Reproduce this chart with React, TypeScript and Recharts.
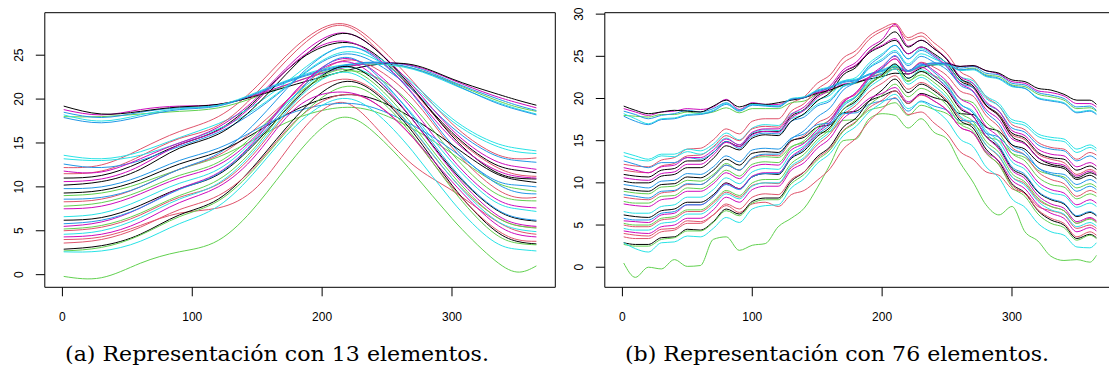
import React from "react";
import { LineChart, Line, XAxis, YAxis, ReferenceArea } from "recharts";

// day grids
const daysA = [1, 30, 60, 90, 120, 150, 180, 212, 240, 270, 300, 330, 350, 365];
const daysB = [
  1, 10, 20, 30, 40, 50, 60, 70, 80, 90, 100, 110, 120, 130, 140, 150, 160, 170, 180,
  190, 200, 210, 220, 230, 240, 250, 260, 270, 280, 290, 300, 310, 320, 330, 340, 350, 360, 365,
];

const xTicks = [0, 100, 200, 300];
const yTicksA = [0, 5, 10, 15, 20, 25];
const yTicksB = [0, 5, 10, 15, 20, 25, 30];

const captionA = "(a) Representación con 13 elementos.";
const captionB = "(b) Representación con 76 elementos.";

// ---- (a) smooth curves, 13 elements ----
const aO1 = [19.2, 18.3, 18.6, 19.1, 19.4, 20.4, 21.7, 23.0, 23.9, 23.9, 22.3, 20.8, 19.9, 19.3];
const aO2 = [18.8, 18.2, 18.8, 19.2, 19.4, 20.5, 22.0, 23.4, 24.1, 23.8, 22.2, 20.5, 19.6, 19.0];
const aO3 = [18.5, 17.9, 18.5, 19.0, 19.3, 20.6, 22.3, 23.6, 24.2, 23.7, 22.0, 20.3, 19.3, 18.7];
const aO4 = [18.0, 18.0, 18.3, 18.6, 19.0, 20.3, 22.0, 23.5, 24.0, 23.5, 21.9, 20.1, 19.1, 18.6];
const aO5 = [18.2, 17.5, 18.2, 18.9, 19.3, 20.8, 22.5, 23.8, 24.0, 23.4, 21.7, 19.9, 18.9, 18.3];
const aO6 = [17.9, 17.3, 18.0, 18.8, 19.2, 20.7, 22.4, 23.7, 24.2, 23.5, 21.8, 19.8, 18.8, 18.2];
const aG = [-0.2, -0.35, 1.3, 2.6, 3.9, 8.0, 13.6, 17.8, 16.2, 11.6, 6.4, 2.0, 0.3, 1.0];
const aM1 = [13.6, 13.2, 14.0, 15.6, 17.2, 19.5, 22.8, 25.8, 25.0, 21.8, 17.8, 15.2, 14.4, 14.1];
const aM2 = [13.2, 13.0, 13.6, 15.0, 16.6, 19.0, 22.3, 25.2, 24.6, 21.5, 17.5, 14.9, 14.0, 13.8];
const aM3 = [12.2, 12.5, 14.3, 16.3, 18.0, 21.5, 26.0, 28.6, 26.5, 22.0, 17.2, 14.0, 13.2, 13.3];
const aM4 = [12.6, 12.2, 13.0, 14.6, 16.2, 18.8, 22.2, 25.0, 24.2, 21.0, 16.8, 13.8, 13.0, 12.8];
const aM5 = [11.8, 11.7, 13.2, 15.0, 16.8, 20.2, 24.6, 27.5, 25.8, 21.5, 16.5, 13.2, 12.3, 12.0];
const aM6 = [11.0, 11.3, 12.8, 14.8, 16.5, 20.0, 24.2, 26.4, 25.2, 21.0, 16.2, 12.8, 11.9, 11.6];
const aM7 = [11.5, 11.8, 13.5, 15.5, 17.0, 20.8, 25.5, 28.4, 26.0, 21.0, 16.0, 12.6, 11.4, 11.2];
const aM8 = [10.2, 10.6, 12.0, 14.4, 16.0, 19.4, 24.0, 27.4, 25.8, 21.2, 15.8, 12.0, 11.0, 10.9];
const aM9 = [10.6, 10.9, 12.4, 14.8, 16.4, 19.8, 24.3, 26.6, 25.0, 20.6, 15.5, 12.2, 11.2, 11.0];
const aM10 = [9.3, 9.6, 10.8, 12.6, 14.0, 16.3, 18.8, 20.4, 20.0, 17.8, 14.8, 11.8, 10.8, 10.5];
const aM11 = [9.0, 9.3, 10.4, 12.0, 13.4, 15.6, 17.8, 19.0, 18.6, 16.6, 13.8, 10.8, 9.8, 9.5];
const aM12 = [8.6, 8.8, 10.0, 12.0, 13.8, 17.5, 22.3, 25.8, 24.8, 20.5, 14.8, 10.8, 9.4, 9.2];
const aM13 = [9.8, 10.0, 11.2, 13.0, 14.4, 16.6, 18.6, 19.5, 19.0, 17.0, 14.2, 11.0, 10.2, 10.0];
const aM14 = [8.3, 8.6, 10.0, 12.0, 13.6, 16.8, 20.8, 24.2, 23.6, 20.0, 14.5, 10.2, 8.8, 8.8];
const aM15 = [7.8, 8.2, 9.5, 11.3, 12.8, 16.3, 20.5, 23.0, 22.6, 19.2, 13.8, 9.6, 8.5, 8.4];
const aM16 = [7.5, 7.8, 9.2, 11.0, 12.5, 16.0, 21.0, 24.5, 23.2, 18.8, 13.2, 9.0, 7.8, 7.6];
const aM17 = [6.6, 7.0, 8.5, 10.4, 12.0, 15.8, 20.6, 23.5, 22.5, 18.2, 12.8, 8.6, 7.5, 7.2];
const aM18 = [6.2, 6.5, 7.9, 9.8, 11.4, 15.2, 20.0, 23.6, 22.2, 17.6, 12.0, 7.8, 6.4, 6.1];
const aM19 = [5.8, 6.2, 7.6, 9.7, 11.5, 15.4, 20.5, 24.6, 23.0, 18.0, 12.2, 7.9, 6.5, 6.2];
const aM20 = [5.0, 5.4, 6.8, 8.8, 10.3, 14.2, 19.5, 22.2, 21.0, 16.5, 11.0, 7.0, 5.6, 5.4];
const aM21 = [5.5, 6.0, 7.6, 9.8, 11.6, 15.6, 21.0, 24.2, 22.6, 17.6, 11.8, 7.3, 5.8, 5.5];
const aM22 = [5.2, 5.6, 7.0, 9.0, 10.8, 14.8, 20.2, 23.3, 21.8, 17.0, 11.4, 7.0, 5.6, 5.3];
const aM23 = [4.6, 5.0, 6.5, 8.6, 10.4, 14.5, 19.8, 23.0, 21.4, 16.6, 11.0, 6.6, 5.2, 4.9];
const aM24 = [4.0, 4.3, 5.6, 7.0, 7.6, 10.0, 15.6, 19.6, 17.0, 12.5, 9.6, 6.5, 5.0, 4.6];
const aM25 = [2.9, 3.3, 4.6, 6.8, 8.6, 12.8, 18.0, 21.8, 20.8, 16.2, 10.2, 5.4, 3.8, 3.5];
const aM26 = [2.7, 3.1, 4.5, 6.6, 8.4, 12.4, 17.5, 21.2, 20.4, 15.8, 9.8, 5.0, 3.6, 3.4];
const aM27 = [2.6, 2.7, 3.8, 5.8, 7.8, 12.0, 17.0, 20.0, 18.6, 14.0, 8.4, 4.0, 2.9, 2.7];
const aM28 = [4.3, 4.6, 6.0, 8.2, 10.0, 13.8, 19.0, 20.8, 19.6, 15.6, 10.6, 6.2, 4.6, 4.3];
const aM29 = [3.6, 4.0, 5.4, 7.4, 9.0, 12.6, 17.6, 20.4, 19.6, 15.6, 10.0, 5.6, 4.0, 3.8];

// ---- (b) wiggly curves, 76 elements ----
const bO1 = [19.1, 18.6, 18.2, 18.4, 18.6, 18.5, 18.4, 19.1, 19.8, 19.0, 19.4, 19.3, 19.5, 19.8, 20.1, 20.6, 21.0, 21.6, 21.9, 22.3, 22.6, 23.0, 22.9, 23.6, 24.0, 24.1, 23.8, 23.9, 23.3, 23.0, 22.2, 22.0, 21.2, 21.0, 20.5, 19.8, 19.8, 19.3];
const bO2 = [18.8, 18.4, 18.0, 18.4, 18.5, 18.8, 18.7, 19.0, 19.9, 18.7, 19.5, 19.3, 19.3, 19.9, 20.1, 20.7, 21.0, 21.7, 21.9, 22.5, 22.9, 23.5, 23.2, 23.9, 24.1, 24.2, 23.8, 23.9, 23.3, 22.9, 22.0, 21.8, 20.9, 20.7, 20.3, 19.4, 19.4, 19.0];
const bO3 = [18.5, 18.1, 17.6, 18.0, 18.2, 18.6, 18.4, 18.8, 19.5, 18.6, 19.3, 19.2, 19.1, 19.9, 20.1, 20.8, 21.2, 21.9, 22.1, 22.8, 23.2, 23.7, 23.3, 24.0, 24.2, 24.2, 23.6, 23.8, 23.0, 22.8, 21.8, 21.6, 20.7, 20.4, 20.0, 19.0, 19.1, 18.6];
const bO4 = [18.0, 17.9, 17.8, 18.1, 18.1, 18.4, 18.2, 18.4, 18.9, 18.3, 18.8, 18.8, 18.8, 19.5, 19.7, 20.5, 20.8, 21.6, 21.8, 22.5, 23.0, 23.5, 23.2, 23.8, 24.0, 24.0, 23.4, 23.6, 22.8, 22.6, 21.6, 21.4, 20.5, 20.2, 19.8, 18.8, 18.9, 18.5];
const bO5 = [18.2, 17.6, 17.0, 17.6, 17.7, 18.1, 18.2, 18.6, 19.4, 18.6, 19.3, 19.2, 19.1, 20.0, 20.2, 21.0, 21.4, 22.1, 22.3, 22.9, 23.4, 23.9, 23.3, 23.9, 24.0, 24.0, 23.3, 23.4, 22.6, 22.3, 21.4, 21.2, 20.1, 19.8, 19.5, 18.4, 18.6, 18.2];
const bO6 = [17.9, 17.3, 16.9, 17.5, 17.6, 18.0, 18.1, 18.5, 19.3, 18.5, 19.2, 19.1, 19.0, 19.9, 20.1, 20.9, 21.3, 22.0, 22.2, 22.9, 23.3, 23.8, 23.2, 23.9, 24.2, 24.1, 23.4, 23.5, 22.7, 22.4, 21.5, 21.2, 20.0, 19.7, 19.4, 18.3, 18.5, 18.1];
const bG = [0.5, -1.2, 0.0, -0.2, 0.9, 0.1, 0.2, 3.3, 3.6, 2.0, 2.6, 2.8, 4.8, 5.8, 7.0, 9.4, 12.2, 15.0, 15.2, 17.6, 18.2, 18.0, 16.5, 17.6, 16.0, 15.2, 12.4, 10.1, 7.4, 6.2, 7.2, 4.2, 3.1, 1.3, 0.8, 0.9, 0.6, 1.4];
const bM1 = [13.6, 13.2, 12.8, 13.4, 13.4, 14.0, 13.8, 14.6, 15.9, 15.1, 16.5, 16.9, 16.8, 18.2, 18.6, 19.8, 20.4, 22.0, 22.5, 24.2, 25.3, 26.3, 24.7, 25.9, 25.1, 24.2, 22.6, 22.1, 20.3, 19.4, 17.5, 17.1, 15.8, 15.4, 15.2, 14.0, 14.5, 14.1];
const bM2 = [13.2, 12.8, 12.6, 13.2, 13.1, 13.7, 13.4, 14.2, 15.3, 14.5, 15.9, 16.3, 16.2, 17.6, 18.1, 19.3, 19.9, 21.5, 22.0, 23.7, 24.7, 25.7, 24.1, 25.3, 24.7, 23.9, 22.2, 21.8, 20.0, 19.1, 17.2, 16.8, 15.5, 15.1, 14.9, 13.6, 14.2, 13.8];
const bM3 = [12.2, 12.0, 11.9, 12.7, 13.0, 14.0, 14.1, 15.1, 16.4, 15.8, 17.3, 17.6, 17.6, 19.4, 20.2, 21.8, 22.8, 24.8, 25.7, 27.4, 28.3, 28.9, 27.2, 27.8, 26.6, 25.3, 23.2, 22.3, 20.2, 19.1, 16.9, 16.3, 14.8, 14.2, 14.0, 12.8, 13.6, 13.3];
const bM4 = [12.6, 12.2, 11.8, 12.4, 12.4, 13.0, 12.8, 13.6, 14.9, 14.1, 15.5, 15.9, 15.8, 17.3, 17.8, 19.1, 19.7, 21.4, 21.9, 23.6, 24.5, 25.5, 23.9, 25.0, 24.3, 23.4, 21.8, 21.3, 19.4, 18.5, 16.5, 16.0, 14.5, 14.0, 13.8, 12.6, 13.2, 12.8];
const bM5 = [11.8, 11.5, 11.2, 11.9, 12.1, 13.0, 13.0, 13.9, 15.2, 14.5, 16.0, 16.4, 16.4, 18.1, 19.0, 20.5, 21.5, 23.4, 24.3, 26.0, 27.0, 28.8, 26.2, 26.9, 25.9, 24.7, 22.6, 21.8, 19.6, 18.5, 16.2, 15.6, 14.0, 13.4, 13.2, 11.9, 12.4, 12.0];
const bM6 = [11.0, 10.8, 10.7, 11.5, 11.7, 12.6, 12.6, 13.6, 14.9, 14.3, 15.8, 16.1, 16.1, 17.9, 18.7, 20.3, 21.2, 23.1, 23.9, 25.4, 26.2, 26.9, 25.3, 26.1, 25.3, 24.1, 22.1, 21.3, 19.2, 18.1, 15.9, 15.3, 13.6, 13.0, 12.8, 11.5, 12.0, 11.6];
const bM7 = [11.5, 11.3, 11.2, 12.0, 12.3, 13.2, 13.3, 14.3, 15.6, 15.0, 16.4, 16.7, 16.6, 18.5, 19.4, 21.1, 22.2, 24.2, 25.2, 27.0, 28.0, 28.6, 26.9, 27.4, 26.1, 24.6, 22.4, 21.3, 19.1, 18.0, 15.7, 15.1, 13.4, 12.8, 12.4, 11.0, 11.6, 11.2];
const bM8 = [10.2, 10.0, 10.0, 10.8, 11.0, 11.8, 11.8, 12.9, 14.4, 13.9, 15.3, 15.7, 15.6, 17.3, 18.2, 19.7, 20.7, 22.8, 23.7, 25.6, 26.7, 27.9, 26.1, 26.9, 25.9, 24.6, 22.4, 21.5, 19.2, 17.9, 15.5, 14.7, 13.0, 12.2, 11.9, 10.6, 11.2, 10.9];
const bM9 = [10.6, 10.4, 10.3, 11.1, 11.3, 12.2, 12.2, 13.3, 14.8, 14.3, 15.7, 16.1, 16.0, 17.7, 18.6, 20.1, 21.1, 23.1, 24.0, 25.5, 26.3, 27.1, 25.3, 26.1, 25.1, 23.8, 21.8, 20.9, 18.7, 17.5, 15.2, 14.6, 13.0, 12.4, 12.1, 10.8, 11.4, 11.0];
const bM10 = [9.3, 9.1, 9.0, 9.8, 9.9, 10.7, 10.6, 11.5, 12.8, 12.1, 13.5, 13.7, 13.6, 15.0, 15.4, 16.6, 16.9, 18.3, 18.5, 19.7, 20.3, 20.9, 19.4, 20.6, 20.1, 19.6, 18.2, 18.1, 16.6, 16.1, 14.5, 14.0, 12.5, 12.0, 11.7, 10.4, 10.9, 10.5];
const bM11 = [9.0, 8.8, 8.7, 9.5, 9.6, 10.3, 10.2, 11.0, 12.3, 11.5, 12.9, 13.1, 13.0, 14.3, 14.8, 15.9, 16.1, 17.4, 17.5, 18.6, 19.0, 19.5, 18.0, 19.2, 18.7, 18.2, 17.0, 16.9, 15.5, 15.0, 13.5, 13.0, 11.5, 11.0, 10.7, 9.4, 9.9, 9.5];
const bM12 = [8.6, 8.4, 8.2, 9.0, 9.1, 9.9, 9.8, 10.8, 12.1, 11.5, 13.0, 13.4, 13.4, 15.2, 16.2, 17.8, 18.9, 21.0, 22.0, 23.9, 25.1, 26.3, 24.7, 25.7, 24.9, 23.7, 21.6, 20.8, 18.4, 17.0, 14.5, 13.7, 11.8, 11.0, 10.5, 9.0, 9.6, 9.2];
const bM13 = [9.8, 9.6, 9.4, 10.2, 10.3, 11.1, 11.0, 11.9, 13.2, 12.5, 13.9, 14.1, 14.0, 15.3, 15.8, 16.9, 17.1, 18.2, 18.3, 19.3, 19.7, 20.0, 18.5, 19.7, 19.1, 18.6, 17.4, 17.3, 15.9, 15.4, 13.9, 13.3, 11.8, 11.2, 11.0, 9.8, 10.4, 10.0];
const bM14 = [8.3, 8.1, 8.0, 8.8, 9.0, 9.8, 9.8, 10.8, 12.1, 11.5, 12.9, 13.3, 13.2, 14.9, 15.6, 17.1, 17.9, 19.8, 20.5, 22.4, 23.5, 24.7, 23.2, 24.3, 23.7, 22.7, 20.9, 20.3, 18.0, 16.6, 14.2, 13.3, 11.3, 10.4, 9.9, 8.4, 9.1, 8.8];
const bM15 = [7.8, 7.6, 7.6, 8.4, 8.5, 9.4, 9.3, 10.2, 11.5, 10.8, 12.2, 12.5, 12.4, 14.2, 15.0, 16.6, 17.5, 19.4, 20.2, 21.8, 22.7, 23.5, 22.0, 23.2, 22.7, 21.8, 20.0, 19.5, 17.2, 15.9, 13.5, 12.6, 10.7, 9.8, 9.5, 8.1, 8.7, 8.4];
const bM16 = [7.5, 7.3, 7.2, 8.0, 8.2, 9.0, 9.0, 9.9, 11.2, 10.5, 11.9, 12.2, 12.1, 13.9, 14.7, 16.3, 17.5, 19.6, 20.7, 22.6, 23.8, 25.0, 23.3, 24.2, 23.3, 22.0, 20.0, 19.1, 16.7, 15.4, 12.9, 12.0, 10.1, 9.2, 8.8, 7.4, 8.0, 7.6];
const bM17 = [6.6, 6.4, 6.4, 7.2, 7.4, 8.3, 8.3, 9.2, 10.6, 9.9, 11.3, 11.7, 11.6, 13.5, 14.4, 16.1, 17.2, 19.3, 20.3, 22.0, 23.0, 24.0, 22.4, 23.4, 22.6, 21.4, 19.3, 18.5, 16.2, 14.9, 12.5, 11.6, 9.7, 8.8, 8.5, 7.1, 7.6, 7.2];
const bM18 = [6.2, 6.0, 5.9, 6.7, 6.9, 7.7, 7.7, 8.6, 10.0, 9.3, 10.7, 11.1, 11.0, 12.9, 13.8, 15.5, 16.6, 18.7, 19.7, 21.6, 22.8, 24.1, 22.4, 23.2, 22.3, 21.0, 18.8, 17.9, 15.5, 14.2, 11.7, 10.8, 8.9, 8.0, 7.5, 6.0, 6.5, 6.1];
const bM19 = [5.8, 5.6, 5.6, 6.4, 6.6, 7.4, 7.4, 8.4, 9.8, 9.2, 10.7, 11.1, 11.1, 13.0, 14.0, 15.7, 16.9, 19.1, 20.2, 22.3, 23.6, 25.1, 23.3, 24.1, 23.1, 21.6, 19.4, 18.3, 15.9, 14.4, 11.9, 11.0, 9.0, 8.1, 7.6, 6.1, 6.6, 6.2];
const bM20 = [5.0, 4.8, 4.8, 5.6, 5.8, 6.6, 6.6, 7.6, 8.9, 8.3, 9.7, 10.0, 9.9, 11.8, 12.8, 14.5, 15.8, 18.0, 19.2, 20.8, 21.8, 22.7, 21.1, 21.9, 21.1, 19.8, 17.7, 16.8, 14.5, 13.1, 10.7, 9.9, 8.0, 7.2, 6.7, 5.2, 5.8, 5.4];
const bM21 = [5.5, 5.4, 5.3, 6.2, 6.4, 7.4, 7.4, 8.4, 9.9, 9.3, 10.8, 11.2, 11.2, 13.1, 14.2, 15.9, 17.2, 19.5, 20.7, 22.5, 23.6, 24.7, 22.9, 23.7, 22.7, 21.2, 19.0, 17.9, 15.5, 14.0, 11.5, 10.5, 8.5, 7.5, 7.0, 5.4, 5.9, 5.5];
const bM22 = [5.2, 5.0, 5.0, 5.8, 6.0, 6.8, 6.8, 7.8, 9.1, 8.5, 10.0, 10.4, 10.4, 12.3, 13.4, 15.1, 16.4, 18.7, 19.9, 21.7, 22.7, 23.8, 22.1, 22.8, 21.9, 20.5, 18.3, 17.3, 14.9, 13.6, 11.1, 10.1, 8.2, 7.2, 6.7, 5.2, 5.7, 5.3];
const bM23 = [4.6, 4.4, 4.4, 5.2, 5.4, 6.3, 6.3, 7.3, 8.7, 8.1, 9.6, 10.0, 10.0, 12.0, 13.0, 14.8, 16.1, 18.3, 19.5, 21.3, 22.4, 23.5, 21.7, 22.5, 21.5, 20.1, 17.9, 16.9, 14.5, 13.2, 10.7, 9.7, 7.8, 6.8, 6.3, 4.8, 5.3, 4.9];
const bM24 = [4.0, 3.8, 3.7, 4.5, 4.6, 5.5, 5.4, 6.2, 7.3, 6.5, 7.5, 7.7, 7.2, 8.6, 9.1, 10.3, 11.7, 14.0, 15.3, 17.3, 18.7, 20.1, 18.1, 18.4, 17.1, 15.8, 13.7, 12.8, 11.3, 10.9, 9.3, 8.8, 7.2, 6.7, 6.2, 4.6, 5.0, 4.6];
const bM25 = [2.9, 2.7, 2.7, 3.5, 3.6, 4.5, 4.4, 5.4, 6.9, 6.3, 7.8, 8.2, 8.2, 10.2, 11.3, 13.1, 14.3, 16.6, 17.7, 19.7, 21.0, 22.3, 20.7, 21.7, 20.9, 19.6, 17.4, 16.5, 14.0, 12.5, 9.9, 8.8, 6.7, 5.6, 5.0, 3.4, 3.9, 3.5];
const bM26 = [2.7, 2.5, 2.5, 3.3, 3.5, 4.3, 4.3, 5.3, 6.7, 6.1, 7.6, 8.0, 8.0, 9.9, 11.0, 12.7, 13.9, 16.1, 17.2, 19.2, 20.4, 21.7, 20.2, 21.2, 20.5, 19.2, 17.0, 16.1, 13.6, 12.1, 9.5, 8.4, 6.3, 5.2, 4.7, 3.2, 3.8, 3.4];
const bM27 = [2.9, 2.2, 1.8, 2.9, 3.0, 3.7, 3.6, 4.6, 5.9, 5.3, 6.9, 7.3, 7.4, 9.4, 10.5, 12.3, 13.5, 15.6, 16.7, 18.4, 19.5, 20.5, 18.8, 19.6, 18.7, 17.4, 15.2, 14.3, 11.9, 10.6, 8.1, 7.1, 5.2, 4.2, 3.8, 2.4, 2.3, 2.9];
const bM28 = [4.3, 4.1, 4.0, 4.8, 5.0, 5.8, 5.8, 6.8, 8.3, 7.7, 9.2, 9.6, 9.6, 11.5, 12.4, 14.1, 15.3, 17.6, 18.7, 20.0, 20.6, 21.3, 19.6, 20.5, 19.7, 18.6, 16.6, 15.9, 13.7, 12.6, 10.3, 9.3, 7.4, 6.4, 5.8, 4.2, 4.7, 4.3];
const bM29 = [3.6, 3.4, 3.4, 4.2, 4.4, 5.2, 5.2, 6.2, 7.5, 6.9, 8.3, 8.7, 8.6, 10.4, 11.3, 12.9, 14.1, 16.2, 17.3, 18.9, 19.8, 20.9, 19.4, 20.4, 19.7, 18.6, 16.6, 15.9, 13.5, 12.2, 9.7, 8.7, 6.8, 5.8, 5.2, 3.6, 4.2, 3.8];

// column order as plotted (colours cycle black, red, green, blue, cyan, magenta)
const seriesA = [
  aM6, aM3, aO4, aO3, aM1, aO2,
  aO1, aM7, aM11, aM4, aM2, aM5,
  aM8, aM14, aG, aM12, aO5, aM9,
  aM10, aM20, aM15, aO6, aM17, aM16,
  aM18, aM24, aM22, aM13, aM23, aM21,
  aM25, aM29, aM26, aM19, aM27, aM28,
];
const seriesB = [
  bM6, bM3, bO4, bO3, bM1, bO2,
  bO1, bM7, bM11, bM4, bM2, bM5,
  bM8, bM14, bG, bM12, bO5, bM9,
  bM10, bM20, bM15, bO6, bM17, bM16,
  bM18, bM24, bM22, bM13, bM23, bM21,
  bM25, bM29, bM26, bM19, bM27, bM28,
];

const palette = ["#000000", "#DF536B", "#61D04F", "#2297E6", "#28E2E5", "#CD0BBC"];

const X_DOMAIN: [number, number] = [-13.56, 379.56];
const SANS = "'Liberation Sans', Arial, Helvetica, sans-serif";
const SERIF = "'DejaVu Serif', 'Liberation Serif', serif";

const XTick = (p: any) => (
  <text x={p.x} y={p.y + 24.5} textAnchor="middle" fontFamily={SANS} fontSize={12} fill="#000">
    {p.payload.value}
  </text>
);

const YTick = (p: any) => {
  const bx = p.x - 12.9;
  return (
    <text
      x={bx}
      y={p.y}
      transform={`rotate(-90 ${bx} ${p.y})`}
      textAnchor="middle"
      fontFamily={SANS}
      fontSize={12}
      fill="#000"
    >
      {p.payload.value}
    </text>
  );
};

interface PanelProps {
  days: number[];
  series: number[][];
  curve: "natural" | "monotone";
  yDomain: [number, number];
  yTicks: number[];
  left: number;
}

const Panel = ({ days, series, curve, yDomain, yTicks, left }: PanelProps) => {
  const rows = days.map((d, i) => {
    const row: Record<string, number> = { day: d };
    series.forEach((s, k) => {
      row["s" + k] = s[i];
    });
    return row;
  });

  return (
    <div style={{ position: "absolute", left, top: 0 }}>
      <LineChart
        width={560}
        height={370}
        data={rows}
        margin={{ top: 12.7, right: 4.7, bottom: 0, left: 0 }}
      >
        <XAxis
          dataKey="day"
          type="number"
          domain={X_DOMAIN}
          ticks={xTicks}
          allowDataOverflow
          interval={0}
          height={82.7}
          tickSize={9}
          tickMargin={0}
          axisLine={false}
          tickLine={{ stroke: "#000" }}
          tick={XTick}
        />
        <YAxis
          type="number"
          domain={yDomain}
          ticks={yTicks}
          allowDataOverflow
          interval={0}
          width={44.8}
          tickSize={9}
          tickMargin={0}
          axisLine={false}
          tickLine={{ stroke: "#000" }}
          tick={YTick}
        />
        {series.map((_, k) => (
          <Line
            key={k}
            dataKey={"s" + k}
            type={curve}
            stroke={palette[k % 6]}
            strokeWidth={1}
            dot={false}
            activeDot={false}
            isAnimationActive={false}
          />
        ))}
        <ReferenceArea
          x1={X_DOMAIN[0]}
          x2={X_DOMAIN[1]}
          y1={yDomain[0]}
          y2={yDomain[1]}
          fill="none"
          stroke="#000"
          strokeWidth={1}
          ifOverflow="visible"
        />
      </LineChart>
    </div>
  );
};

export default function App() {
  return (
    <div
      style={{
        position: "absolute",
        left: 0,
        top: 0,
        width: 1109,
        height: 370,
        overflow: "hidden",
        background: "#fff",
      }}
    >
      <Panel days={daysA} series={seriesA} curve="natural" yDomain={[-1.44, 29.84]} yTicks={yTicksA} left={0} />
      <Panel days={daysB} series={seriesB} curve="monotone" yDomain={[-2.38, 30.17]} yTicks={yTicksB} left={560.2} />
      <svg width={1109} height={370} style={{ position: "absolute", left: 0, top: 0, pointerEvents: "none" }}>
        <text x={65} y={361} fontFamily={SERIF} fontSize={21} fill="#000" textLength={424} lengthAdjust="spacingAndGlyphs">
          {captionA}
        </text>
        <text x={625} y={361} fontFamily={SERIF} fontSize={21} fill="#000" textLength={424} lengthAdjust="spacingAndGlyphs">
          {captionB}
        </text>
      </svg>
    </div>
  );
}
